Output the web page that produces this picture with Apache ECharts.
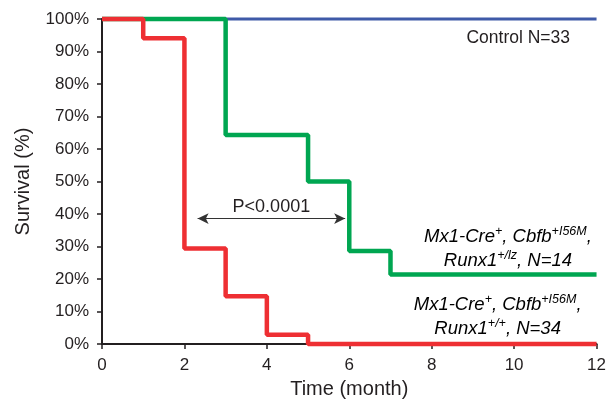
<!DOCTYPE html>
<html>
<head>
<meta charset="utf-8">
<script src="https://cdn.jsdelivr.net/npm/echarts@6/dist/echarts.min.js"></script>
<style>html,body{margin:0;padding:0;background:#fff}#c{width:609px;height:404px}</style>
</head>
<body>
<div id="c"></div>
<script>
// Data
const controlTimes = [0, 12];
const controlSurvival = [100, 100];
const lzTimes = [0, 3, 5, 6, 7, 12];
const lzSurvival = [100, 64.3, 50, 28.6, 21.4, 21.4];
const wtTimes = [0, 1, 2, 3, 4, 5, 12];
const wtSurvival = [100, 94.1, 29.4, 14.7, 2.9, 0, 0];
const xTicks = [0, 2, 4, 6, 8, 10, 12];
const yTicks = [0, 10, 20, 30, 40, 50, 60, 70, 80, 90, 100];
const pArrow = [[2.32, 38.6], [5.9, 38.6]];
const pLabel = 'P<0.0001';

const pair = (t, v) => t.map((x, i) => [x, v[i]]);
const font = 'Liberation Sans, Arial, sans-serif';
const ink = '#231f20';

const chart = echarts.init(document.getElementById('c'), null, {renderer: 'canvas'});
const option = {
  animation: false,
  grid: {left: 102, right: 10, top: 19, bottom: 59, containLabel: false},
  xAxis: {
    type: 'value', min: 0, max: 12, interval: 2,
    name: 'Time (month)', nameLocation: 'middle', nameGap: 34,
    nameTextStyle: {fontFamily: font, fontSize: 20, color: ink},
    axisLine: {lineStyle: {color: ink, width: 2}},
    axisTick: {show: true, length: 5, lineStyle: {color: ink, width: 1.5}},
    axisLabel: {fontFamily: font, fontSize: 17, color: ink, margin: 13,
      formatter: v => xTicks.includes(v) ? String(v) : ''},
    splitLine: {show: false}
  },
  yAxis: {
    type: 'value', min: 0, max: 100, interval: 10,
    name: 'Survival (%)', nameLocation: 'middle', nameGap: 69, nameRotate: 90,
    nameTextStyle: {fontFamily: font, fontSize: 20, color: ink},
    axisLine: {show: true, lineStyle: {color: ink, width: 2}},
    axisTick: {show: true, length: 5, lineStyle: {color: ink, width: 1.5}},
    axisLabel: {fontFamily: font, fontSize: 17, color: ink, margin: 13,
      formatter: v => yTicks.includes(v) ? v + '%' : ''},
    splitLine: {show: false}
  },
  series: [
    {type: 'line', step: 'end', data: pair(controlTimes, controlSurvival), showSymbol: false, clip: false,
     lineStyle: {color: '#3f5aa8', width: 3}, z: 3},
    {type: 'line', step: 'end', data: pair(lzTimes, lzSurvival), showSymbol: false, clip: false,
     lineStyle: {color: '#00a651', width: 4.5}, z: 4},
    {type: 'line', step: 'end', data: pair(wtTimes, wtSurvival), showSymbol: false, clip: false,
     lineStyle: {color: '#ee2f33', width: 4.5}, z: 5,
     markLine: {
       silent: true, symbol: ['arrow', 'arrow'], symbolSize: [8, 11],
       lineStyle: {color: '#333', width: 1.2, type: 'solid'},
       itemStyle: {color: '#111'},
       label: {show: true, position: 'middle', formatter: pLabel, fontFamily: font, fontSize: 18, color: ink, distance: 3},
       data: [[{coord: pArrow[0]}, {coord: pArrow[1]}]]
     }}
  ]
};
chart.setOption(option);

const P = (x, y) => chart.convertToPixel({gridIndex: 0}, [x, y]);
const rich = {
  i: {fontFamily: font, fontSize: 18.5, fontStyle: 'italic', color: ink, lineHeight: 24},
  s: {fontFamily: font, fontSize: 12.5, fontStyle: 'italic', color: ink, lineHeight: 16, verticalAlign: 'top'}
};
const cp = P(10.1, 94.2);
const gp = P(9.85, 29.3);
const rp = P(9.6, 8.4);
chart.setOption({
  graphic: [
    {type: 'text', x: cp[0], y: cp[1], style: {text: 'Control N=33', font: '17.5px ' + font, fill: ink, align: 'center', verticalAlign: 'middle'}},
    {type: 'text', x: gp[0], y: gp[1], style: {
      text: '{i|Mx1-Cre}{s|+}{i|, Cbfb}{s|+I56M}{i|,}\n{i|Runx1}{s|+/lz}{i|, N=14}',
      rich: rich, align: 'center', verticalAlign: 'middle'}},
    {type: 'text', x: rp[0], y: rp[1], style: {
      text: '{i|Mx1-Cre}{s|+}{i|, Cbfb}{s|+I56M}{i|,}\n{i|Runx1}{s|+/+}{i|, N=34}',
      rich: rich, align: 'center', verticalAlign: 'middle'}}
  ]
});
</script>
</body>
</html>
